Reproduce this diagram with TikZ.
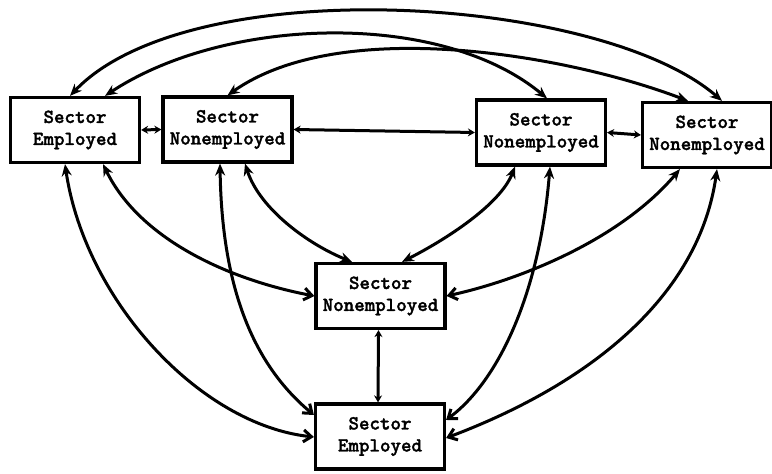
\documentclass[tikz,border=0pt]{standalone}
\usepackage{fontspec}
\newfontfamily\typew{lmmonolt10-bold.otf}[FakeBold=1.6]
\usetikzlibrary{arrows.meta,calc}
\tikzset{
  sbox/.style={draw, line width=1.6pt, minimum width=64.5pt, minimum height=32.5pt,
    inner sep=0pt, align=center, font=\typew\fontsize{10}{11}\selectfont},
  link/.style={line width=1.5pt},
  fill tip/.tip={Stealth[length=6pt,width=5pt]},
  small tip/.tip={Stealth[length=3.5pt,width=4pt]},
  open tip/.tip={Straight Barb[length=4pt,width=6pt]},
}
\begin{document}
\begin{tikzpicture}[x=0.5pt,y=-0.5pt]
  \useasboundingbox (0,0) rectangle (772,474);

  % sector boxes
  \node[sbox] (A) at (75,130)    {Sector\\Employed};
  \node[sbox] (B) at (227.5,129.5) {Sector\\Nonemployed};
  \node[sbox] (C) at (541,132.5)  {Sector\\Nonemployed};
  \node[sbox] (D) at (707,135)   {Sector\\Nonemployed};
  \node[sbox] (E) at (380.5,296) {Sector\\Nonemployed};
  \node[sbox] (F) at (380,436.5) {Sector\\Employed};

  % arcs over the top row
  \draw[link, fill tip-fill tip] ($(A.north)+(-5,0)$)
    .. controls (190,-30) and (600,-5) .. ($(D.north)+(15,0)$);
  \draw[link, fill tip-fill tip] ($(A.north)+(30,0)$)
    .. controls (226,16) and (441,10) .. ($(C.north)+(6,0)$);
  \draw[link, fill tip-fill tip] (B.north)
    .. controls (340,16) and (565,54) .. ($(D.north)+(-19,0)$);

  % links within the top row
  \draw[link, small tip-small tip] (A.east) -- (B.west);
  \draw[link, small tip-small tip] (B.east) -- (C.west);
  \draw[link, small tip-small tip] (C.east) -- (D.west);

  % top row down to the lower boxes
  \draw[link, fill tip-open tip] ($(A.south)+(-10,0)$)
    .. controls (85,300) and (200,425) .. ($(F.west)+(0,0.5)$);
  \draw[link, fill tip-open tip] ($(A.south)+(28,0)$)
    .. controls (140,240) and (230,280) .. (E.west);
  \draw[link, fill tip-open tip] ($(B.south)+(-7.5,0)$)
    .. controls (222,300) and (260,370) .. ($(F.west)+(0,-21.5)$);
  \draw[link, fill tip-fill tip] ($(B.south)+(17.5,0)$)
    .. controls (260,210) and (310,245) .. ($(E.north)+(-28.5,0)$);
  \draw[link, fill tip-fill tip] ($(C.south)+(-26,0)$)
    .. controls (500,205) and (445,240) .. ($(E.north)+(21.5,0)$);
  \draw[link, fill tip-open tip] ($(C.south)+(9,0)$)
    .. controls (540,290) and (500,380) .. ($(F.east)+(0,-16.5)$);
  \draw[link, fill tip-open tip] ($(D.south)+(-27,0)$)
    .. controls (620,240) and (520,280) .. (E.east);
  \draw[link, fill tip-open tip] ($(D.south)+(10,0)$)
    .. controls (700,290) and (600,380) .. ($(F.east)+(0,1.5)$);

  % middle to bottom
  \draw[link, small tip-small tip] ($(E.south)+(-2,0)$) -- ($(F.north)+(-2,0)$);
\end{tikzpicture}
\end{document}
